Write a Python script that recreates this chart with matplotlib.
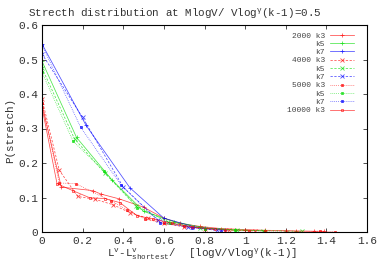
import matplotlib
matplotlib.use("Agg")
import matplotlib.pyplot as plt

plt.rcParams['font.family'] = ['Liberation Mono', 'DejaVu Sans Mono']
plt.rcParams['mathtext.fontset'] = 'custom'
plt.rcParams['mathtext.rm'] = 'Liberation Mono'
plt.rcParams['mathtext.it'] = 'Liberation Mono'
plt.rcParams['mathtext.tt'] = 'Liberation Mono'

# ---- data ----
x_2000_k3 = [0, 0.095, 0.25, 0.29, 0.38, 0.5, 0.6, 0.68, 0.78, 0.88, 1.0, 1.1, 1.2, 1.25, 1.34, 1.39]
y_2000_k3 = [0.37, 0.13, 0.12, 0.11, 0.096, 0.072, 0.04, 0.025, 0.016, 0.01, 0.007, 0.005, 0.004, 0.003, 0.002, 0.002]
x_2000_k5 = [0, 0.17, 0.343, 0.5, 0.65, 0.8, 0.95, 1.1]
y_2000_k5 = [0.495, 0.274, 0.152, 0.06, 0.03, 0.012, 0.006, 0.003]
x_2000_k7 = [0, 0.217, 0.433, 0.6, 0.75, 0.9]
y_2000_k7 = [0.545, 0.309, 0.128, 0.04, 0.015, 0.006]

x_4000_k3 = [0, 0.085, 0.176, 0.26, 0.35, 0.433, 0.52, 0.6, 0.7, 0.8, 0.92, 1.05]
y_4000_k3 = [0.385, 0.179, 0.103, 0.095, 0.079, 0.056, 0.04, 0.025, 0.015, 0.009, 0.005, 0.003]
x_4000_k5 = [0, 0.16, 0.31, 0.463, 0.62, 0.78, 0.96, 1.09, 1.28]
y_4000_k5 = [0.475, 0.27, 0.17, 0.076, 0.03, 0.012, 0.006, 0.004, 0.002]
x_4000_k7 = [0, 0.2, 0.4, 0.57, 0.72, 0.86]
y_4000_k7 = [0.516, 0.332, 0.13, 0.035, 0.015, 0.005]

x_5000_k3 = [0, 0.085, 0.166, 0.34, 0.42, 0.507, 0.6, 0.7, 0.8, 0.9, 1.02, 1.1, 1.37, 1.44]
y_5000_k3 = [0.375, 0.142, 0.14, 0.09, 0.064, 0.038, 0.025, 0.017, 0.01, 0.007, 0.004, 0.003, 0.002, 0.001]
x_5000_k5 = [0, 0.153, 0.306, 0.47, 0.63, 0.8, 0.95]
y_5000_k5 = [0.463, 0.263, 0.176, 0.07, 0.025, 0.01, 0.005]
x_5000_k7 = [0, 0.19, 0.388, 0.58, 0.74, 0.88]
y_5000_k7 = [0.542, 0.304, 0.137, 0.027, 0.012, 0.004]

x_10000_k3 = [0, 0.074, 0.151, 0.236, 0.31, 0.384, 0.468, 0.547, 0.64, 0.74, 0.85]
y_10000_k3 = [0.362, 0.14, 0.12, 0.099, 0.097, 0.085, 0.047, 0.038, 0.025, 0.015, 0.008]

labels = ["2000 k3", "k5", "k7", "4000 k3", "k5", "k7", "5000 k3", "k5", "k7", "10000 k3"]

RED, GREEN, BLUE = "#ff0000", "#00dd00", "#0000ff"

series = [
    (x_2000_k3, y_2000_k3, RED, '-', '+', RED),
    (x_2000_k5, y_2000_k5, GREEN, '-', '+', GREEN),
    (x_2000_k7, y_2000_k7, BLUE, '-', '+', BLUE),
    (x_4000_k3, y_4000_k3, RED, (0, (3, 2)), 'x', RED),
    (x_4000_k5, y_4000_k5, GREEN, (0, (3, 2)), 'x', GREEN),
    (x_4000_k7, y_4000_k7, BLUE, (0, (3, 2)), 'x', BLUE),
    (x_5000_k3, y_5000_k3, RED, (0, (1, 1.5)), 's', RED),
    (x_5000_k5, y_5000_k5, GREEN, (0, (1, 1.5)), 's', GREEN),
    (x_5000_k7, y_5000_k7, BLUE, (0, (1, 1.5)), 's', BLUE),
    (x_10000_k3, y_10000_k3, RED, '-', 's', 'none'),
]

fig = plt.figure(figsize=(3.82, 2.67), dpi=100)
ax = fig.add_axes([42/382, 1-232/267, (367-42)/382, (232-25)/267])

for (x, y, c, ls, m, mfc), lab in zip(series, labels):
    ms = 2.8 if m in ('+', 'x') else 2.0
    ax.plot(x, y, color=c, linestyle=ls, linewidth=0.55, alpha=0.7,
            marker=m, markersize=ms, markerfacecolor=mfc, markeredgecolor=c,
            markeredgewidth=0.6, label=lab)

ax.set_xlim(0, 1.6)
ax.set_ylim(0, 0.6)
ax.set_xticks([0, 0.2, 0.4, 0.6, 0.8, 1.0, 1.2, 1.4, 1.6])
ax.set_xticklabels(["0", "0.2", "0.4", "0.6", "0.8", "1", "1.2", "1.4", "1.6"])
ax.set_yticks([0, 0.1, 0.2, 0.3, 0.4, 0.5, 0.6])
ax.set_yticklabels(["0", "0.1", "0.2", "0.3", "0.4", "0.5", "0.6"])
ax.tick_params(direction='in', top=True, right=True, length=3, width=0.6,
               labelsize=8, colors='#333333', pad=3)
for s in ax.spines.values():
    s.set_linewidth(0.8)

leg = ax.legend(loc='upper right', bbox_to_anchor=(358/382, 1-28/267),
                bbox_transform=fig.transFigure, frameon=False, fontsize=5.7,
                markerfirst=False, handlelength=3.1, labelspacing=0.1,
                borderpad=0, handletextpad=0.6)
for t in leg.get_texts():
    t.set_color('#444444')

fig.text(175/382, 1-14/267, r"Strecth distribution at MlogV/ Vlog$^{\gamma}$(k-1)=0.5",
         ha='center', va='center', fontsize=7.8, color='#333333')
fig.text(202/382, 1-254/267,
         r"L$^{\mathrm{v}}$-L$^{\mathrm{v}}_{\mathrm{shortest}}$/  [logV/Vlog$^{\gamma}$(k-1)]",
         ha='center', va='center', fontsize=7.8, color='#333333')
fig.text(10/382, 1-130/267, "P(stretch)", rotation=90, ha='center', va='center',
         fontsize=7.8, color='#333333')

fig.savefig("out.png", dpi=100)
